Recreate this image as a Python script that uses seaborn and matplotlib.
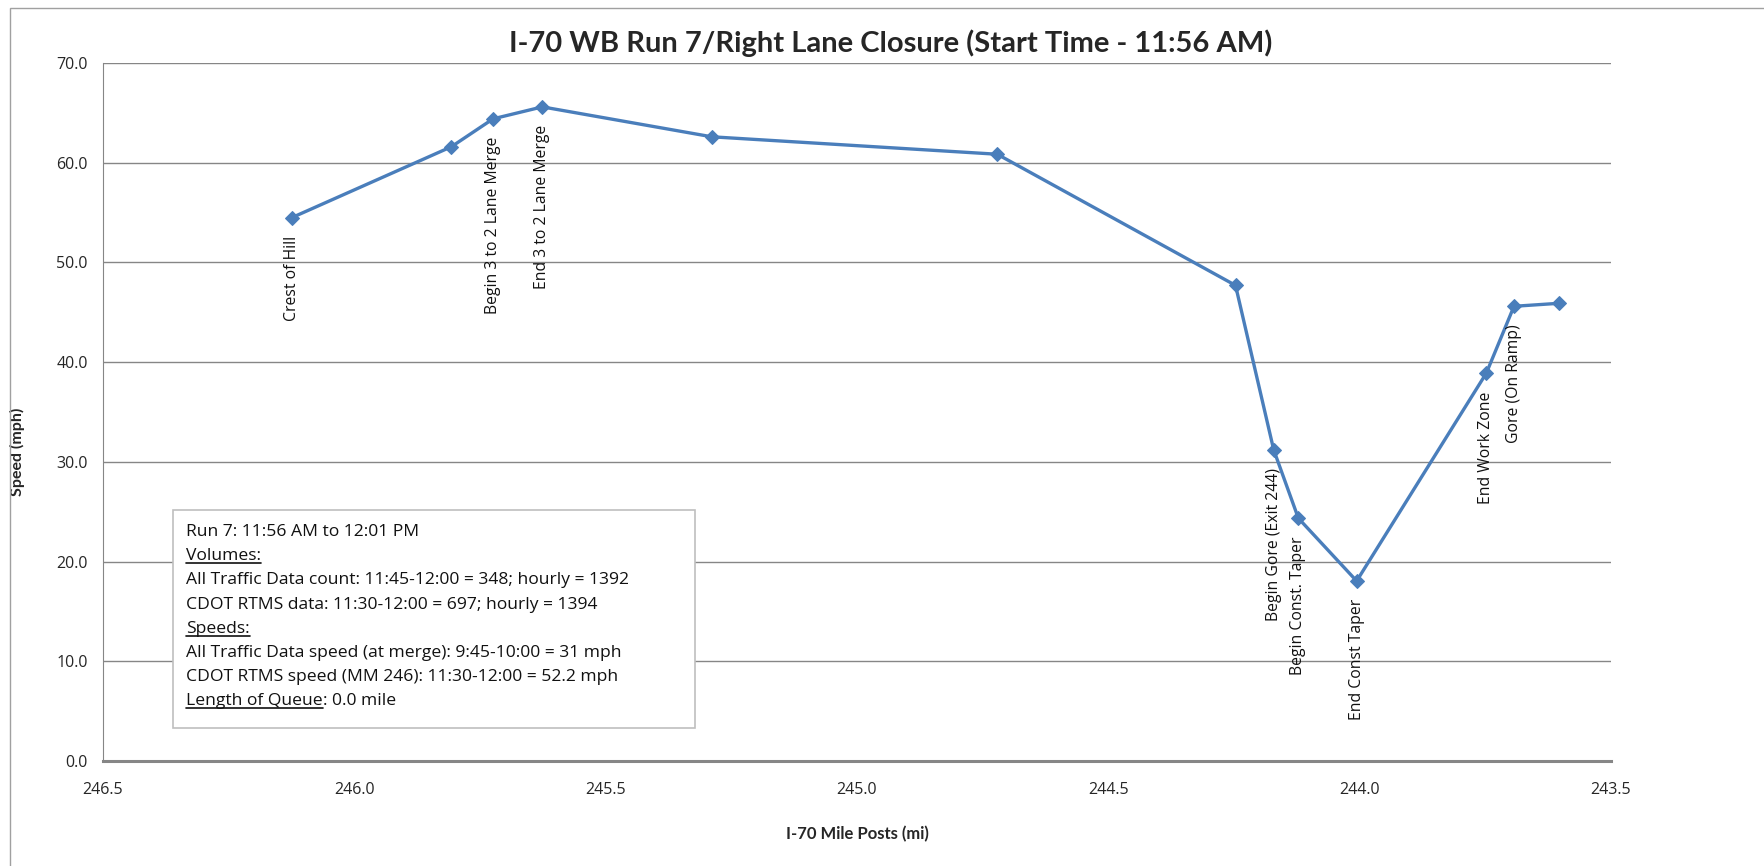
import numpy as np
import pandas as pd
import matplotlib
matplotlib.use("Agg")
import matplotlib.pyplot as plt
from matplotlib.lines import Line2D
from matplotlib.patches import Rectangle
from matplotlib.transforms import IdentityTransform
from matplotlib.ticker import MultipleLocator, FormatStrFormatter
import seaborn as sns

# Data
mile_posts = [246.124, 245.807, 245.724, 245.626, 245.289, 244.721, 244.247,
              244.171, 244.122, 244.006, 243.748, 243.693, 243.604]
speeds = [54.5, 61.6, 64.4, 65.6, 62.6, 60.85, 47.7,
          31.2, 24.35, 18.05, 38.9, 45.6, 45.9]
point_labels = ["Crest of Hill", "", "Begin 3 to 2 Lane Merge", "End 3 to 2 Lane Merge",
                "", "", "", "Begin Gore (Exit 244)", "Begin Const. Taper",
                "End Const Taper", "End Work Zone", "Gore (On Ramp)", ""]
info_lines = ["Run 7: 11:56 AM to 12:01 PM",
              "Volumes:",
              "All Traffic Data count: 11:45-12:00 = 348; hourly = 1392",
              "CDOT RTMS data: 11:30-12:00 = 697; hourly = 1394",
              "Speeds:",
              "All Traffic Data speed (at merge): 9:45-10:00 = 31 mph",
              "CDOT RTMS speed (MM 246): 11:30-12:00 = 52.2 mph",
              "Length of Queue"]
underlined = [False, True, False, False, True, False, False, True]

df = pd.DataFrame({"mile": mile_posts, "speed": speeds})

sns.set_style("white")
plt.rcParams["font.family"] = ["Open Sans", "DejaVu Sans"]
narrow = ["Lato", "DejaVu Sans"]

W, H = 1764, 866
fig = plt.figure(figsize=(W / 100, H / 100), dpi=100)
ax = fig.add_axes([103 / W, 1 - 761 / H, (1611 - 103) / W, (761 - 63) / H])

grid_col = "#868686"
line_col = "#4a7ebb"

ax.yaxis.grid(True, color=grid_col, lw=1)
ax.set_axisbelow(True)

sns.lineplot(data=df, x="mile", y="speed", sort=False, ax=ax, color=line_col,
             lw=2.4, marker="D", markersize=7, markeredgecolor=line_col, zorder=3)

for xm, ys, lab in zip(mile_posts, speeds, point_labels):
    if lab:
        ax.annotate(lab, (xm, ys), xytext=(0, -13), textcoords="offset points",
                    rotation=90, ha="center", va="top", fontsize=11.3, color="#111111")

ax.set_xlim(246.5, 243.5)
ax.set_ylim(0, 70)
ax.xaxis.set_major_locator(MultipleLocator(0.5))
ax.xaxis.set_minor_locator(MultipleLocator(0.1))
ax.yaxis.set_major_locator(MultipleLocator(10))
ax.yaxis.set_minor_locator(MultipleLocator(2))
ax.xaxis.set_major_formatter(FormatStrFormatter("%.1f"))
ax.yaxis.set_major_formatter(FormatStrFormatter("%.1f"))
ax.tick_params(axis="x", which="major", direction="inout", length=8, color=grid_col,
               labelsize=11.5, pad=11)
ax.tick_params(axis="x", which="minor", direction="in", length=4, color=grid_col)
ax.tick_params(axis="y", which="major", direction="out", length=5, color=grid_col,
               labelsize=11.5, pad=6)
ax.tick_params(axis="y", which="minor", direction="out", length=4, color=grid_col)

for s in ["top", "right"]:
    ax.spines[s].set_visible(False)
ax.spines["left"].set_color(grid_col)
ax.spines["bottom"].set_color(grid_col)
ax.spines["bottom"].set_linewidth(2.2)

ax.set_xlabel("I-70 Mile Posts (mi)", fontsize=12, fontweight="bold",
              family=narrow, labelpad=20)
ax.set_ylabel("Speed (mph)", fontsize=11.5, fontweight="bold", family=narrow)
ax.yaxis.set_label_coords(-0.052, 0.443)
ax.set_title("I-70 WB Run 7/Right Lane Closure (Start Time - 11:56 AM)",
             fontsize=21, fontweight="bold", family=narrow, pad=8,
             x=(891 - 103) / (1611 - 103))

# chart border
fig.add_artist(Rectangle((10 / W, -0.2), 1.2, 1 - 8 / H + 0.2, transform=fig.transFigure,
                         fill=False, edgecolor="#a0a0a0", lw=1))

# info box
fig.add_artist(Rectangle((173 / W, 1 - 727.7 / H), (695 - 173) / W, (727.7 - 510) / H,
                         transform=fig.transFigure, facecolor="white",
                         edgecolor="#bfbfbf", lw=1.2, zorder=5))

fig.canvas.draw()
renderer = fig.canvas.get_renderer()
for i, (txt, ul) in enumerate(zip(info_lines, underlined)):
    base = 536 + i * 24.2
    t = fig.text(186 / W, 1 - base / H, txt, fontsize=12.6, va="baseline", ha="left",
                 color="#111111", zorder=6)
    if ul:
        bb = t.get_window_extent(renderer)
        yl = H - base - 3
        fig.add_artist(Line2D([bb.x0, bb.x1], [yl, yl], transform=IdentityTransform(),
                              color="#111111", lw=1.2, zorder=6))
    if i == len(info_lines) - 1:
        bb = t.get_window_extent(renderer)
        fig.text(bb.x1 / W, 1 - base / H, ": 0.0 mile", fontsize=12.6, va="baseline",
                 ha="left", color="#111111", zorder=6)

fig.savefig("out.png", dpi=100)
